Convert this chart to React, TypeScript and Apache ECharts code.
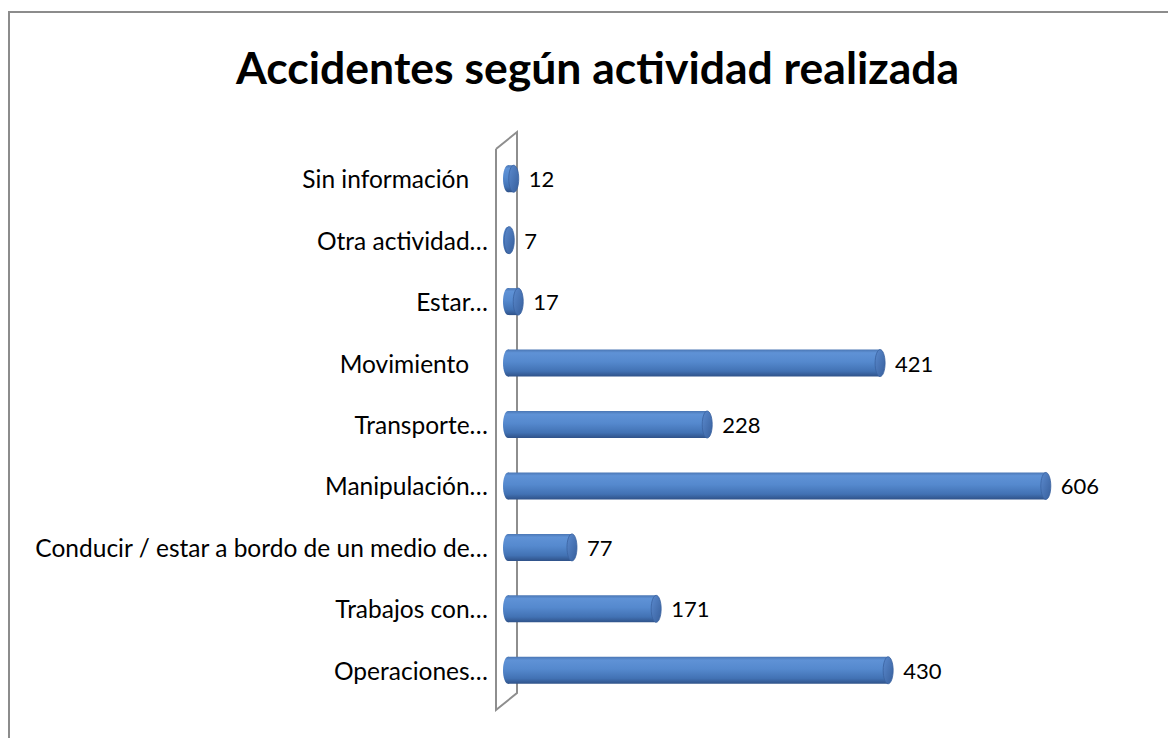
import React, { useEffect, useRef } from "react";
import * as echarts from "echarts";

const categories = [
  "Sin información   ",
  "Otra actividad…",
  "Estar…",
  "Movimiento   ",
  "Transporte…",
  "Manipulación…",
  "Conducir / estar a bordo de un medio de…",
  "Trabajos con…",
  "Operaciones…",
];
const values = [12, 7, 17, 421, 228, 606, 77, 171, 430];
const titleText = "Accidentes según actividad realizada";

export default function App() {
  const ref = useRef<HTMLDivElement>(null);
  useEffect(() => {
    const chart = echarts.init(ref.current!, null, { renderer: "svg" });
    const FONT = "Lato";
    const option: any = {
      animation: false,
      backgroundColor: "#ffffff",
      title: {
        text: titleText,
        left: 231,
        top: 39,
        textStyle: { fontFamily: FONT, fontSize: 44.5, fontWeight: "bold", color: "#000" },
      },
      grid: { left: 503, top: 148, bottom: 37, width: 627 },
      xAxis: {
        type: "value",
        min: 0,
        max: 700,
        show: false,
      },
      yAxis: {
        type: "category",
        data: categories,
        inverse: true,
        axisLine: { show: false },
        axisTick: { show: false },
        axisLabel: {
          margin: 15,
          fontFamily: FONT,
          fontSize: 24.5,
          color: "#000",
        },
      },
      graphic: [
        {
          type: "rect",
          shape: { x: 9, y: 12, width: 1170, height: 740 },
          style: { fill: "none", stroke: "#8c8c8c", lineWidth: 2 },
          silent: true,
        },
        {
          type: "polyline",
          shape: { points: [[496, 149], [517, 132], [517, 693], [496, 710], [496, 149]] },
          style: { fill: "none", stroke: "#8e8e8e", lineWidth: 2 },
          z: 0,
        },
      ],
      series: [
        {
          type: "custom",
          z: 5,
          data: values.map((v, i) => [v, i]),
          renderItem: (params: any, api: any) => {
            const v = api.value(0);
            const idx = api.value(1);
            const end = api.coord([v, idx]);
            const start = api.coord([0, idx]);
            const h = 27;
            const rx = 5;
            const x0 = start[0];
            const x1 = end[0];
            const yc = end[1];
            const bodyGrad = new echarts.graphic.LinearGradient(0, 0, 0, 1, [
              { offset: 0, color: "#4a76b4" },
              { offset: 0.12, color: "#5f92d6" },
              { offset: 0.45, color: "#5589ce" },
              { offset: 0.8, color: "#4272b4" },
              { offset: 1, color: "#2f5289" },
            ]);
            const capGrad = new echarts.graphic.LinearGradient(0, 0, 1, 1, [
              { offset: 0, color: "#5b8ace" },
              { offset: 1, color: "#375f9c" },
            ]);
            return {
              type: "group",
              children: [
                {
                  type: "ellipse",
                  shape: { cx: x0 + rx, cy: yc, rx: rx, ry: h / 2 },
                  style: { fill: bodyGrad },
                },
                {
                  type: "rect",
                  shape: { x: x0 + rx, y: yc - h / 2, width: Math.max(x1 - x0 - rx, 0), height: h },
                  style: { fill: bodyGrad },
                },
                {
                  type: "ellipse",
                  shape: { cx: Math.max(x1, x0 + rx), cy: yc, rx: rx, ry: h / 2 },
                  style: { fill: capGrad, stroke: "#3a62a0", lineWidth: 0.8 },
                },
                {
                  type: "text",
                  style: {
                    text: String(v),
                    x: Math.max(x1, x0 + rx) + rx + 10,
                    y: yc,
                    verticalAlign: "middle",
                    align: "left",
                    fontFamily: FONT,
                    fontSize: 22,
                    fill: "#000",
                  },
                },
              ],
            };
          },
        },
      ],
    };
    chart.setOption(option);
    return () => chart.dispose();
  }, []);
  return <div ref={ref} style={{ width: 1168, height: 738, position: "absolute", left: 0, top: 0 }} />;
}
